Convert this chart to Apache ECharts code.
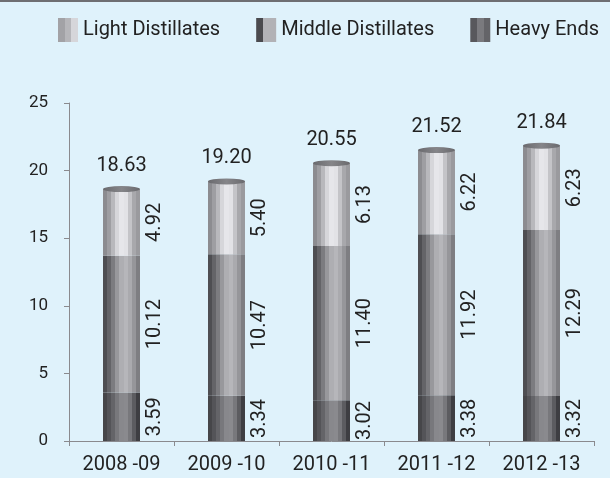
<!DOCTYPE html>
<html><head><meta charset="utf-8">
<script src="https://cdn.jsdelivr.net/npm/echarts@6/dist/echarts.min.js"></script>
<style>html,body{margin:0;padding:0;background:#dff2fb}#c{width:610px;height:478px}</style>
</head><body><div id="c"></div>
<script>
var categories = ['2008 -09', '2009 -10', '2010 -11', '2011 -12', '2012 -13'];
var heavyEnds = [3.59, 3.34, 3.02, 3.38, 3.32];
var middleDistillates = [10.12, 10.47, 11.40, 11.92, 12.29];
var lightDistillates = [4.92, 5.40, 6.13, 6.22, 6.23];
var totals = [18.63, 19.20, 20.55, 21.52, 21.84];
var yTicks = [0, 5, 10, 15, 20, 25];

var FONT = 'Roboto,"Liberation Sans",sans-serif';

function stripes(colors) {
  var stops = [], n = colors.length;
  for (var i = 0; i < n; i++) {
    stops.push({offset: i / n, color: colors[i]});
    stops.push({offset: (i + 1) / n - 0.0001, color: colors[i]});
  }
  return new echarts.graphic.LinearGradient(0, 0, 1, 0, stops);
}
var lightCol = stripes(['#8c8c90','#9e9ea2','#b8b8bc','#d6d6da','#e6e6ea','#e2e2e6','#c4c4c8','#a8a8ac','#9a9a9e']);
var midCol = stripes(['#4e4e52','#646468','#7c7c80','#98989c','#aeaeb2','#b6b6ba','#aaaaae','#96969a','#7e7e82']);
var heavyCol = stripes(['#464649','#545458','#646468','#78787c','#88888c','#8a8a8e','#78787c','#5c5c60','#3e3e42']);
var capCol = new echarts.graphic.LinearGradient(0, 0, 1, 0, [
  {offset: 0, color: '#6a6a6e'}, {offset: 0.5, color: '#858589'}, {offset: 1, color: '#6a6a6e'}]);

var legLight = stripes(['#a2a2a6','#b6b6ba','#d6d6da']);
var legMid = stripes(['#4a4a4e','#b2b2b6','#b2b2b6']);
var legHeavy = stripes(['#58585c','#7a7a7e','#646468']);

function segLabel() {
  return {
    show: true, position: 'right', distance: 5, rotate: 90,
    align: 'center', verticalAlign: 'top',
    fontFamily: FONT, fontSize: 20, color: '#222',
    formatter: function (p) { return p.value.toFixed(2); }
  };
}

var chart = echarts.init(document.getElementById('c'));
chart.setOption({
  backgroundColor: '#dff2fb',
  animation: false,
  graphic: [{type: 'rect', shape: {x: 0, y: 0, width: 610, height: 2}, style: {fill: '#6e6e72'}}],
  legend: {
    left: 58, top: 18, width: 552, padding: 0, itemGap: 36, itemWidth: 20, itemHeight: 24,
    textStyle: {fontFamily: FONT, fontSize: 20, color: '#222'},
    data: [
      {name: 'Light Distillates', icon: 'rect', itemStyle: {color: legLight}},
      {name: 'Middle Distillates', icon: 'rect', itemStyle: {color: legMid}},
      {name: 'Heavy Ends', icon: 'rect', itemStyle: {color: legHeavy}}
    ]
  },
  grid: {left: 69, right: 16, top: 103, bottom: 37},
  xAxis: {
    type: 'category', data: categories,
    axisLine: {lineStyle: {color: '#8a8a8e', width: 1}},
    axisTick: {show: true, length: 5, lineStyle: {color: '#8a8a8e'}},
    axisLabel: {interval: 0, fontFamily: FONT, fontSize: 20, color: '#222', margin: 14}
  },
  yAxis: {
    type: 'value', min: yTicks[0], max: yTicks[yTicks.length - 1], interval: 5,
    splitLine: {show: false},
    axisLine: {show: true, lineStyle: {color: '#8a8a8e', width: 1}},
    axisTick: {show: true, length: 5, lineStyle: {color: '#8a8a8e'}},
    axisLabel: {fontFamily: FONT, fontSize: 17, color: '#222', margin: 21}
  },
  series: [
    {name: 'Heavy Ends', type: 'bar', stack: 'a', barWidth: 37, data: heavyEnds,
     itemStyle: {color: heavyCol}, label: segLabel()},
    {name: 'Middle Distillates', type: 'bar', stack: 'a', barWidth: 37, data: middleDistillates,
     itemStyle: {color: midCol}, label: segLabel()},
    {name: 'Light Distillates', type: 'bar', stack: 'a', barWidth: 37, data: lightDistillates,
     itemStyle: {color: lightCol}, label: segLabel()},
    {name: 'Total', type: 'scatter', data: totals, symbol: 'circle', symbolSize: [37, 6],
     itemStyle: {color: capCol, opacity: 1}, z: 5,
     label: {show: true, position: 'top', distance: 10, fontFamily: FONT, fontSize: 20, color: '#222',
       formatter: function (p) { return p.value.toFixed(2); }}}
  ]
});
</script></body></html>
